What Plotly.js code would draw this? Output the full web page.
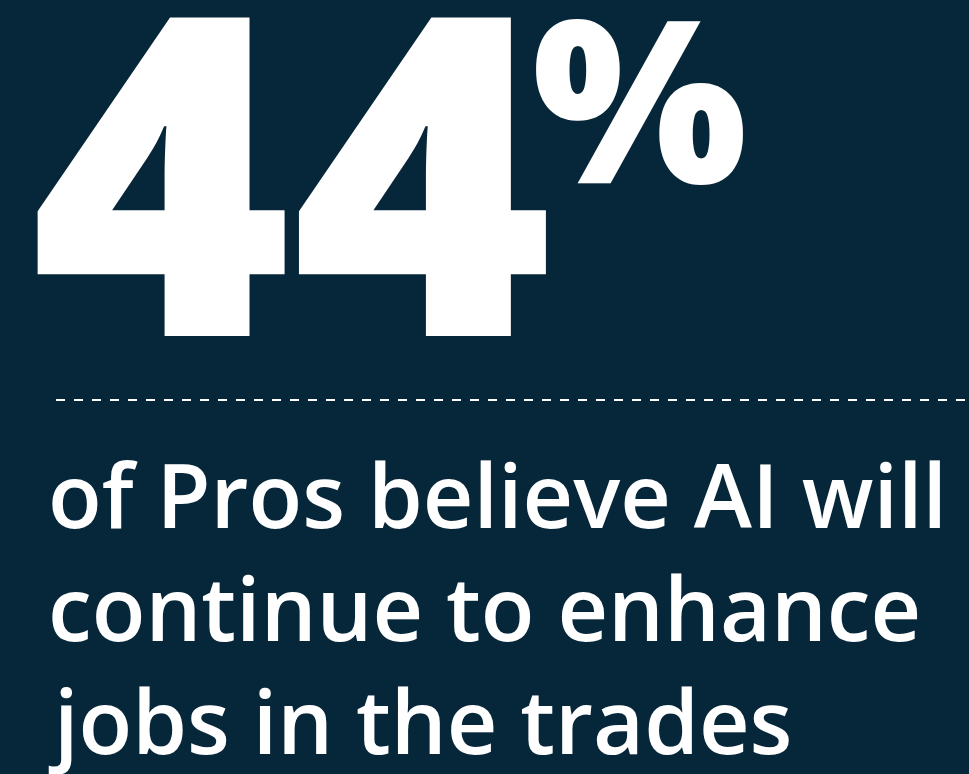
<!DOCTYPE html>
<html><head><meta charset="utf-8">
<script src="https://cdn.plot.ly/plotly-3.0.1.min.js"></script>
<style>html,body{margin:0;padding:0;background:#062639;}</style>
</head><body>
<div id="chart" style="width:969px;height:774px;"></div>
<script>
const statValue = [44];
const statUnit = ["%"];
const captionLines = ["of Pros believe AI will", "continue to enhance", "jobs in the trades"];

const bg = "#062639";
const H = 774;
const fontFam = "Open Sans, Noto Sans, sans-serif";
const py = v => 1 - v / H;
const annotations = [
  {x: 28, y: py(469), xref: "x", yref: "paper", xanchor: "left", yanchor: "bottom", showarrow: false,
   text: String(statValue[0]), font: {family: fontFam, size: 446, color: "#ffffff", weight: 800}},
  {x: 530, y: py(252), xref: "x", yref: "paper", xanchor: "left", yanchor: "bottom", showarrow: false,
   text: statUnit[0], font: {family: fontFam, size: 227, color: "#ffffff", weight: 800}}
];
const baselines = [528, 641, 754];
captionLines.forEach((t, i) => {
  annotations.push({x: 46, y: py(baselines[i] + 28), xref: "x", yref: "paper", xanchor: "left", yanchor: "bottom",
    showarrow: false, text: t, font: {family: fontFam, size: 88, color: "#ffffff", weight: 600}});
});

Plotly.newPlot("chart", [], {
  width: 969, height: H,
  margin: {l: 0, r: 0, t: 0, b: 0},
  paper_bgcolor: bg, plot_bgcolor: bg,
  xaxis: {range: [0, 969], visible: false, fixedrange: true},
  yaxis: {range: [H, 0], visible: false, fixedrange: true},
  showlegend: false,
  annotations: annotations,
  shapes: [{type: "line", xref: "x", yref: "y", x0: 56, x1: 969, y0: 400, y1: 400,
    line: {color: "#ffffff", width: 2, dash: "9px,9px"}}]
}, {displayModeBar: false, staticPlot: true});
</script>
</body></html>
